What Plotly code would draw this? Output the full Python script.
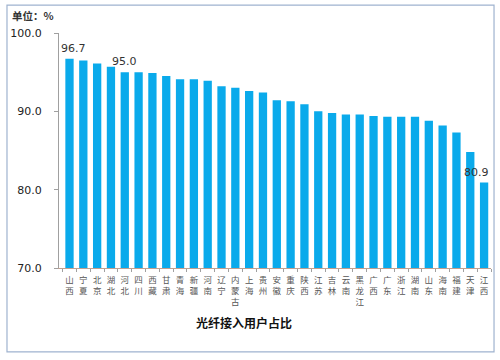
import plotly.graph_objects as go

provinces = ["山西", "宁夏", "北京", "湖北", "河北", "四川", "西藏", "甘肃", "青海", "新疆",
             "河南", "辽宁", "内蒙古", "上海", "贵州", "安徽", "重庆", "陕西", "江苏", "吉林",
             "云南", "黑龙江", "广西", "广东", "浙江", "湖南", "山东", "海南", "福建", "天津", "江西"]
values = [96.7, 96.5, 96.1, 95.7, 95.0, 95.0, 94.9, 94.5, 94.1, 94.1,
          93.9, 93.2, 93.0, 92.6, 92.4, 91.4, 91.3, 90.9, 90.0, 89.8,
          89.6, 89.6, 89.4, 89.3, 89.3, 89.3, 88.8, 88.2, 87.3, 84.8, 80.9]
labelled = ["山西", "河北", "江西"]
label_xshift = [4, 0, -8]
y_ticks = [70, 80, 90, 100]

tick_text = ["<br>".join(list(p)) for p in provinces]

fig = go.Figure(go.Bar(
    x=provinces, y=values, marker=dict(color="#0AAAEB", line=dict(width=0)),
    cliponaxis=False, hoverinfo="x+y",
))

fig.update_layout(
    width=500, height=360, margin=dict(l=59, r=9, t=33, b=92, autoexpand=False),
    paper_bgcolor="white", plot_bgcolor="white", bargap=0.4, showlegend=False,
    font=dict(family="DejaVu Sans, Noto Sans CJK SC, sans-serif"),
)
fig.update_xaxes(
    tickmode="array", tickvals=provinces, ticktext=tick_text, automargin=False,
    tickfont=dict(family="Noto Sans CJK SC", size=8.5, color="#555555"),
    showline=True, linecolor="#C0A090", linewidth=1, ticks="outside", tickson="boundaries",
    ticklen=3, tickcolor="#A0A0A0", showgrid=False, tickangle=0, ticklabelstandoff=4,
)
fig.update_yaxes(
    range=[70, 100], tickvals=y_ticks, ticktext=[f"{t:.1f}" for t in y_ticks], automargin=False,
    tickfont=dict(family="DejaVu Sans", size=11, color="#222222"),
    showline=True, linecolor="#A0A0A0", linewidth=1, ticks="outside", ticklen=4,
    tickcolor="#A0A0A0", showgrid=False, zeroline=False, ticklabelstandoff=10,
)

for name, xs in zip(labelled, label_xshift):
    v = values[provinces.index(name)]
    fig.add_annotation(x=name, y=v, text=f"{v:.1f}", showarrow=False, yanchor="bottom",
                       yshift=2, xshift=xs,
                       font=dict(family="DejaVu Sans", size=11, color="#333333"))

fig.add_shape(type="rect", xref="paper", yref="paper", x0=-0.1204, x1=1.007, y0=-0.357, y1=1.119,
              line=dict(color="#9FB3CF", width=1.2), fillcolor="rgba(0,0,0,0)")
fig.add_annotation(xref="paper", yref="paper", x=-0.113, y=1.075, xanchor="left", yanchor="middle",
                   text="<b>单位：%</b>", showarrow=False,
                   font=dict(family="Noto Sans CJK SC", size=10.5, color="#333333"))
fig.add_annotation(xref="paper", yref="paper", x=0.428, y=-0.230, xanchor="center", yanchor="middle",
                   text="<b>光纤接入用户占比</b>", showarrow=False,
                   font=dict(family="Noto Sans CJK SC", size=12, color="#111111"))

fig.write_html("out.html", config={"displayModeBar": False},
               post_script="document.body.style.margin='0';")
